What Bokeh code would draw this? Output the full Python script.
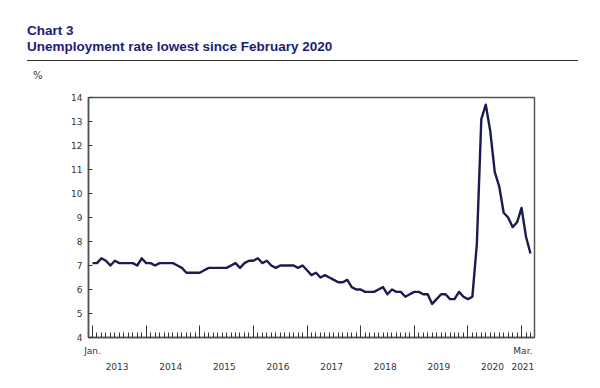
from bokeh.plotting import figure
from bokeh.models import Range1d, FixedTicker, Div, LinearAxis
from bokeh.layouts import column
from bokeh.embed import file_html
from bokeh.resources import INLINE

# Monthly unemployment rate (%), Jan. 2013 to Mar. 2021
rate_2013 = [7.1, 7.1, 7.3, 7.2, 7.0, 7.2, 7.1, 7.1, 7.1, 7.1, 7.0, 7.3]
rate_2014 = [7.1, 7.1, 7.0, 7.1, 7.1, 7.1, 7.1, 7.0, 6.9, 6.7, 6.7, 6.7]
rate_2015 = [6.7, 6.8, 6.9, 6.9, 6.9, 6.9, 6.9, 7.0, 7.1, 6.9, 7.1, 7.2]
rate_2016 = [7.2, 7.3, 7.1, 7.2, 7.0, 6.9, 7.0, 7.0, 7.0, 7.0, 6.9, 7.0]
rate_2017 = [6.8, 6.6, 6.7, 6.5, 6.6, 6.5, 6.4, 6.3, 6.3, 6.4, 6.1, 6.0]
rate_2018 = [6.0, 5.9, 5.9, 5.9, 6.0, 6.1, 5.8, 6.0, 5.9, 5.9, 5.7, 5.8]
rate_2019 = [5.9, 5.9, 5.8, 5.8, 5.4, 5.6, 5.8, 5.8, 5.6, 5.6, 5.9, 5.7]
rate_2020 = [5.6, 5.7, 7.9, 13.1, 13.7, 12.6, 10.9, 10.3, 9.2, 9.0, 8.6, 8.8]
rate_2021 = [9.4, 8.2, 7.5]

years = [2013, 2014, 2015, 2016, 2017, 2018, 2019, 2020, 2021]
year_labels = ["2013", "2014", "2015", "2016", "2017", "2018", "2019", "2020", "2021"]
y_ticks = [4, 5, 6, 7, 8, 9, 10, 11, 12, 13, 14]
first_label = "Jan."
last_label = "Mar."
unit_label = "%"

rate = (rate_2013 + rate_2014 + rate_2015 + rate_2016 + rate_2017 + rate_2018
        + rate_2019 + rate_2020 + rate_2021)
months = list(range(len(rate)))
year_starts = [(y - years[0]) * 12 for y in years]

NAVY = "#1c1c78"
AXIS = "#555555"
TXT = "#333333"
FONT = "DejaVu Sans"

header = Div(
    text=(
        '<div style="margin-left:27px;width:551px;padding-top:23px;padding-bottom:5px;'
        'border-bottom:1.5px solid #333333;font-family:\'Liberation Sans\',Arial,sans-serif;'
        'font-weight:bold;font-size:13.5px;line-height:16px;color:%s;">'
        'Chart 3<br>Unemployment rate lowest since February 2020</div>'
        '<div style="margin-left:33px;margin-top:9px;font-family:\'DejaVu Sans\',sans-serif;'
        'font-size:10px;line-height:12px;color:%s;">%s</div>' % (NAVY, TXT, unit_label)
    ),
    width=592, height=80, margin=0,
)

p = figure(
    width=592, height=300, output_backend="svg", toolbar_location=None,
    x_range=Range1d(-0.9, 98.9), y_range=Range1d(4, 14),
    min_border_left=88, min_border_right=58, min_border_top=17, min_border_bottom=43,
    background_fill_color="white", border_fill_color="white",
)
p.title.visible = False
p.line(months, rate, line_color="#1b1b50", line_width=2.4, line_join="round")

p.xgrid.visible = False
p.ygrid.visible = False
p.outline_line_color = AXIS
p.outline_line_width = 1.5

# y axis
p.yaxis.ticker = FixedTicker(ticks=y_ticks)
p.yaxis.major_tick_in = 4
p.yaxis.major_tick_out = 0
p.yaxis.minor_tick_in = 0
p.yaxis.minor_tick_out = 0
p.yaxis.major_tick_line_color = TXT
p.yaxis.axis_line_color = AXIS
p.yaxis.axis_line_width = 1.5
p.yaxis.major_label_text_font = FONT
p.yaxis.major_label_text_font_size = "9px"
p.yaxis.major_label_text_color = TXT
p.yaxis.major_label_standoff = 6

# x axis: tick marks only
p.xaxis.ticker = FixedTicker(ticks=year_starts, minor_ticks=months)
p.xaxis.major_tick_in = 12
p.xaxis.major_tick_out = 0
p.xaxis.minor_tick_in = 5
p.xaxis.minor_tick_out = 0
p.xaxis.major_tick_line_color = TXT
p.xaxis.minor_tick_line_color = TXT
p.xaxis.axis_line_color = AXIS
p.xaxis.axis_line_width = 1.5
p.xaxis.major_label_overrides = {t: "" for t in year_starts}
p.xaxis.major_label_text_font_size = "1px"
p.xaxis.major_label_standoff = 0

# second axis: "Jan." / "Mar."
end_x = months[-1] - 1.7
ax_m = LinearAxis(ticker=FixedTicker(ticks=[months[0], end_x]),
                  major_label_overrides={months[0]: first_label, end_x: last_label})
# third axis: years
year_x = [s + 5.5 for s in year_starts[:-1]] + [end_x]
ax_y = LinearAxis(ticker=FixedTicker(ticks=year_x),
                  major_label_overrides={x: t for x, t in zip(year_x, year_labels)})
for ax, standoff in ((ax_m, 8), (ax_y, 4)):
    ax.axis_line_color = None
    ax.major_tick_line_color = None
    ax.minor_tick_line_color = None
    ax.major_tick_in = 0
    ax.major_tick_out = 0
    ax.major_label_standoff = standoff
    ax.major_label_text_font = FONT
    ax.major_label_text_font_size = "9px"
    ax.major_label_text_color = TXT
    p.add_layout(ax, "below")

layout = column(header, p, spacing=0)
open("out.html", "w").write(file_html(layout, INLINE))
